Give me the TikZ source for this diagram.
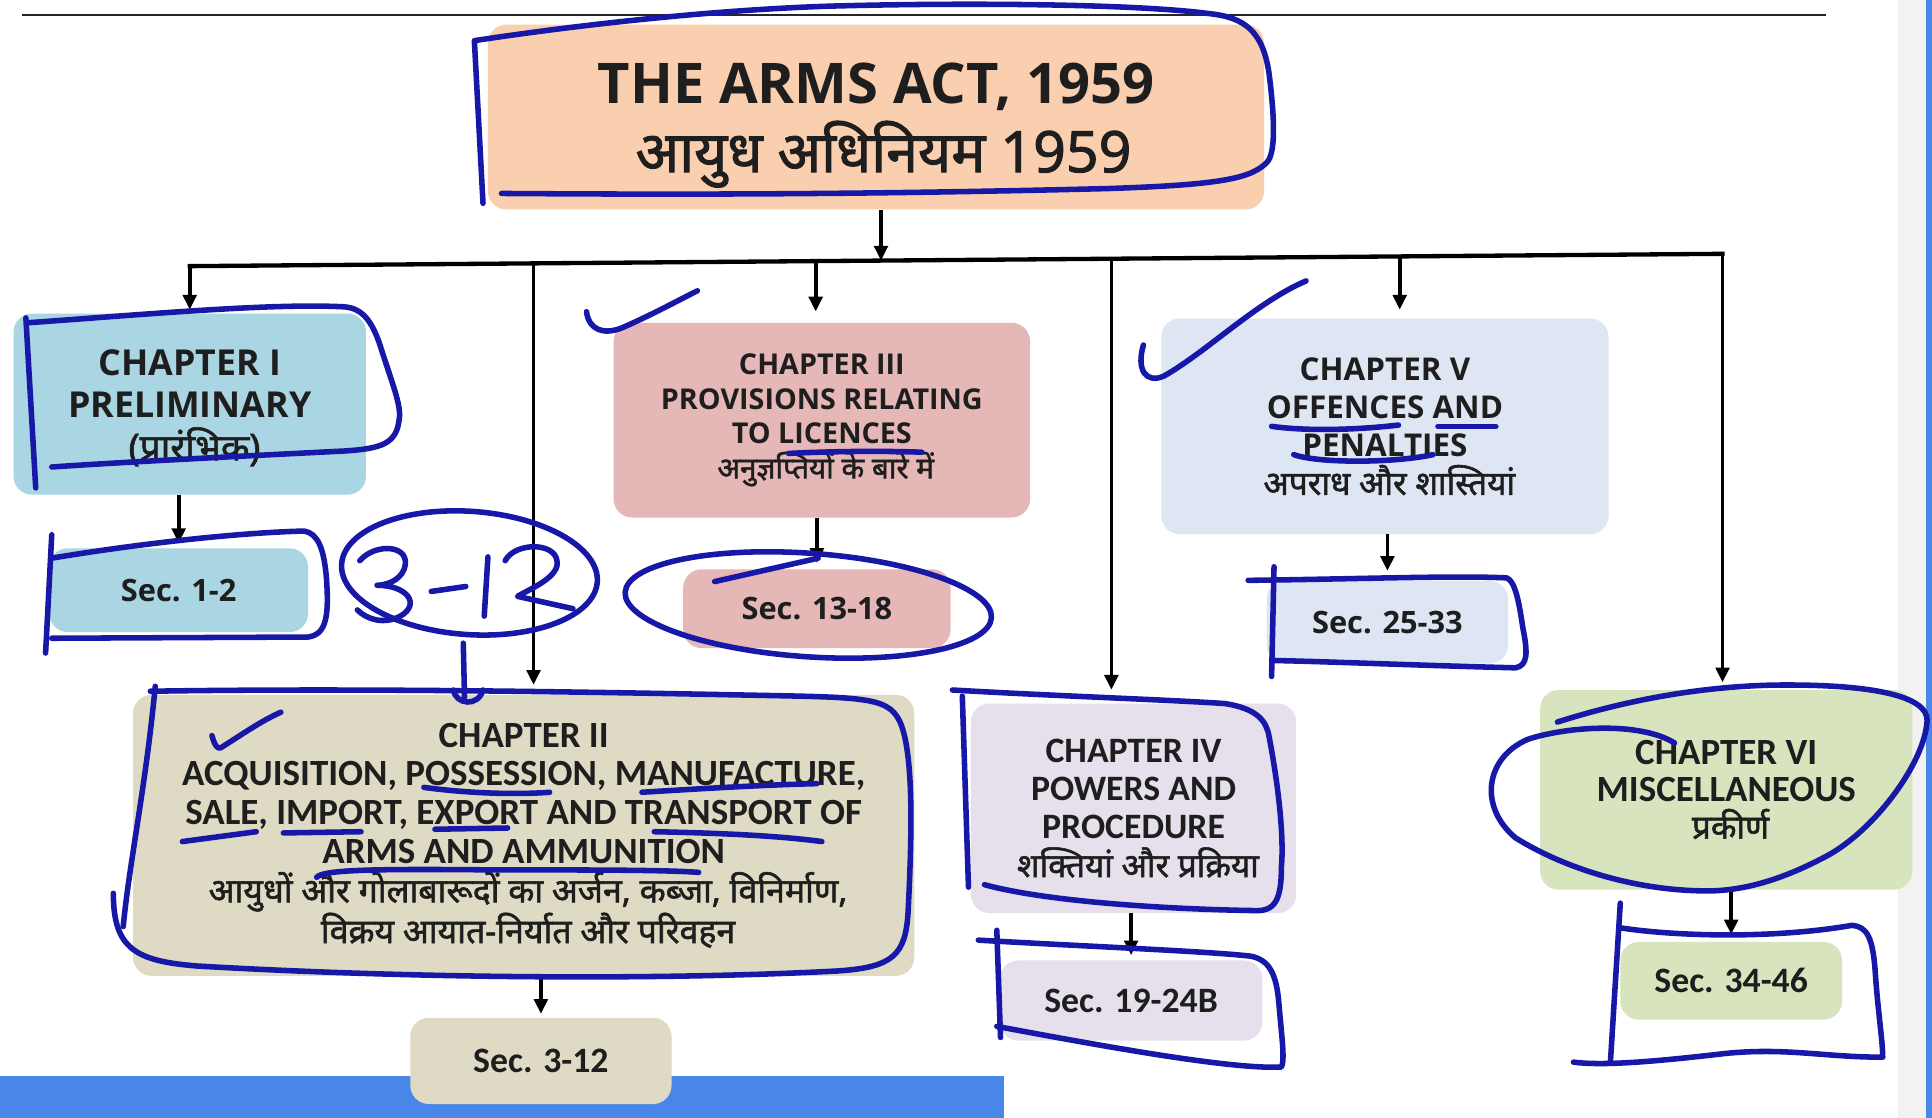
\documentclass[tikz,border=0pt]{standalone}
\usepackage{fontspec}
\setmainfont{Open Sans}
\newfontfamily\wide{Open Sans}
\newfontfamily\cond{Carlito}
\newfontfamily\devaf[Script=Devanagari,FakeBold=1.6]{Noto Sans}
\newcommand\deva{\devaf\mdseries}
\usetikzlibrary{arrows.meta}
\definecolor{ink}{RGB}{24,24,168}
\definecolor{txt}{RGB}{30,30,30}
\definecolor{peach}{RGB}{250,207,175}
\definecolor{cblue}{RGB}{170,213,227}
\definecolor{cpink}{RGB}{229,183,183}
\definecolor{cgrey}{RGB}{221,230,242}
\definecolor{ctan}{RGB}{222,218,196}
\definecolor{clav}{RGB}{229,224,236}
\definecolor{cgreen}{RGB}{216,228,190}
\definecolor{band}{RGB}{72,134,232}
\newcommand\myfs[2]{\fontsize{#1}{#2}\selectfont}
\tikzset{
  box/.style={rounded corners=15pt, inner sep=0pt, align=center, text=txt},
  arr/.style={line width=3pt, draw=black, -{Triangle[length=12pt,width=11pt]}},
  ann/.style={draw=ink, line width=4.5pt, line cap=round, line join=round},
}
\begin{document}
\begin{tikzpicture}[x=1pt,y=-1pt]
\useasboundingbox (0,0) rectangle (1568,907);
\fill[white] (0,0) rectangle (1568,907);
% frame pieces
\draw[line width=2pt, black!85] (18,12) -- (1482,12);
\fill[black!5] (1540,0) rectangle (1563,907);
\fill[band] (1563,0) rectangle (1568,907);
\fill[band] (0,873) rectangle (815,907);

% boxes
\node[box, fill=peach, minimum width=630pt, minimum height=150pt, font=\wide\bfseries\myfs{45.5}{56}] (title) at (711,95)
  {\rule{0pt}{46pt}THE ARMS ACT, 1959\\{\deva\myfs{46.5}{56} आयुध अधिनियम 1959}};
\node[box, fill=cblue, minimum width=286pt, minimum height=147pt, font=\wide\bfseries\myfs{29}{34.5}] (ch1) at (154,328)
  {\rule{0pt}{27pt}CHAPTER I\\PRELIMINARY\\{\deva\myfs{30}{34.5} (प्रारंभिक)}};
\node[box, fill=cblue, minimum width=210pt, minimum height=68pt, font=\wide\bfseries\myfs{25}{30}] (sec1) at (145,479) {Sec. 1-2};
\node[box, fill=cpink, minimum width=338pt, minimum height=158pt, font=\wide\bfseries\myfs{23.3}{28}] (ch3) at (667,341)
  {CHAPTER III\\PROVISIONS RELATING\\TO LICENCES\\{\deva\myfs{24}{28} अनुज्ञप्तियों के बारे में}};
\node[box, fill=cpink, minimum width=217pt, minimum height=64pt, font=\wide\bfseries\myfs{25}{30}] (sec3) at (663,494) {Sec. 13-18};
\node[box, fill=cgrey, minimum width=363pt, minimum height=175pt, font=\wide\bfseries\myfs{25.5}{31}] (ch5) at (1124,346)
  {CHAPTER V\\OFFENCES AND\\PENALTIES\\{\deva\myfs{27}{31} अपराध और शास्तियां}};
\node[box, fill=cgrey, minimum width=196pt, minimum height=67pt, font=\wide\bfseries\myfs{25}{30}] (sec5) at (1126,505) {Sec. 25-33};
\node[box, fill=ctan, minimum width=634pt, minimum height=228pt, font=\cond\bfseries\myfs{30}{31.5}] (ch2) at (425,678)
  {CHAPTER II\\ACQUISITION, POSSESSION, MANUFACTURE,\\SALE, IMPORT, EXPORT AND TRANSPORT OF\\ARMS AND AMMUNITION\\
   {\deva\myfs{27.5}{31.5} आयुधों और गोलाबारूदों का अर्जन, कब्जा, विनिर्माण,}\\
   {\deva\myfs{27.5}{31.5} विक्रय आयात-निर्यात और परिवहन}};
\node[box, fill=ctan, minimum width=212pt, minimum height=70pt, font=\cond\bfseries\myfs{29}{31}] (sec2) at (439,861) {Sec. 3-12};
\node[box, fill=clav, minimum width=264pt, minimum height=170pt, font=\cond\bfseries\myfs{29}{31}] (ch4) at (920,656)
  {CHAPTER IV\\POWERS AND\\PROCEDURE\\{\deva\myfs{27}{31} शक्तियां और प्रक्रिया}};
\node[box, fill=clav, minimum width=213pt, minimum height=65pt, font=\cond\bfseries\myfs{29}{31}] (sec4) at (918,812) {Sec. 19-24B};
\node[box, fill=cgreen, minimum width=302pt, minimum height=162pt, font=\cond\bfseries\myfs{30}{30}] (ch6) at (1401,641)
  {CHAPTER VI\\MISCELLANEOUS\\{\deva\myfs{27}{30} प्रकीर्ण}};
\node[box, fill=cgreen, minimum width=180pt, minimum height=63pt, font=\cond\bfseries\myfs{29}{31}] (sec6) at (1405,796) {Sec. 34-46};

% connectors
\coordinate (busL) at (154,216);
\coordinate (busR) at (1398,206);
\coordinate (bT) at (715,211.5);
\coordinate (b2) at (433,213.8);
\coordinate (b3) at (662,212);
\coordinate (b4) at (902,210);
\coordinate (b5) at (1136,208.1);
\draw[line width=3.5pt, line cap=rect] (busL) -- (busR);
\draw[arr] (title.south -| bT) -- (bT);
\draw[arr, shorten >=3pt] (busL) -- (busL |- ch1.north);
\draw[arr, shorten >=8pt] (b2) -- (b2 |- ch2.north);
\draw[arr, shorten >=9pt] (b3) -- (b3 |- ch3.north);
\draw[arr, shorten >=11pt] (b4) -- (b4 |- ch4.north);
\draw[arr, shorten >=7pt] (b5) -- (b5 |- ch5.north);
\draw[arr, shorten >=6pt] (busR) -- (busR |- ch6.north);
\draw[arr, shorten >=4pt] (ch1.south -| sec1.north) -- (sec1.north);
\draw[arr, shorten >=5pt] (ch3.south -| sec3.north) -- (sec3.north);
\draw[arr, shorten >=8pt] (ch5.south -| sec5.north) -- (sec5.north);
\draw[arr, shorten >=3pt] (ch2.south -| sec2.north) -- (sec2.north);
\draw[arr, shorten >=4pt] (ch4.south -| sec4.north) -- (sec4.north);
\draw[arr, shorten >=6pt] (ch6.south -| sec6.north) -- (sec6.north);

% hand-drawn annotations
% title
\draw[ann] (392,165) -- (385,33) .. controls (470,20) and (580,8) .. (673,5) .. controls (780,2) and (920,3) .. (981,11)
  .. controls (1010,14) and (1025,25) .. (1030,60) .. controls (1035,100) and (1035,125) .. (1028,132)
  .. controls (1015,145) and (990,150) .. (900,153) .. controls (700,158) and (550,158) .. (407,157);
% chapter I
\draw[ann] (21,258) -- (29,396);
\draw[ann] (22,262) .. controls (120,255) and (220,246) .. (279,249) .. controls (295,250) and (303,262) .. (310,285)
  .. controls (318,310) and (326,330) .. (324,340) .. controls (322,360) and (310,364) .. (280,366)
  .. controls (200,370) and (100,375) .. (42,379);
% sec 1-2
\draw[ann] (42,434) -- (37,530);
\draw[ann] (42,453) .. controls (120,440) and (200,432) .. (247,431) .. controls (258,433) and (263,445) .. (265,470)
  .. controls (267,500) and (265,515) .. (250,517) -- (42,518);
% 3-12
\draw[ann, rotate around={-4:(381,465)}] (381,465) ellipse [x radius=104pt, y radius=50pt];
\draw[ann] (292,455) .. controls (305,440) and (335,442) .. (328,462) .. controls (324,472) and (312,475) .. (306,475)
  .. controls (330,475) and (342,490) .. (325,500) .. controls (312,507) and (298,503) .. (290,495);
\draw[ann] (350,480) -- (378,476);
\draw[ann] (396,452) -- (393,500);
\draw[ann] (410,455) .. controls (418,440) and (450,440) .. (452,455) .. controls (455,468) and (430,478) .. (420,484) -- (465,494);
\draw[ann] (376,522) -- (377,566);
\draw[ann] (368,560) .. controls (370,572) and (388,574) .. (392,560);
% chapter III
\draw[ann] (476,253) .. controls (478,268) and (490,272) .. (505,266) .. controls (530,255) and (550,244) .. (566,236);
\draw[ann] (640,368) .. controls (680,366) and (720,366) .. (748,367);
\draw[ann, rotate around={-4:(656,491)}] (656,491) ellipse [x radius=149pt, y radius=42pt];
\draw[ann] (580,472) -- (664,453);
% chapter V
\draw[ann] (928,280) .. controls (922,300) and (930,312) .. (945,305) .. controls (980,285) and (1020,245) .. (1060,228);
\draw[ann] (1032,346) .. controls (1060,350) and (1100,349) .. (1135,345);
\draw[ann] (1167,346) -- (1214,346);
\draw[ann] (1050,369) .. controls (1070,376) and (1130,376) .. (1163,369);
% sec 25-33
\draw[ann] (1034,460) -- (1032,549);
\draw[ann] (1013,471) .. controls (1100,470) and (1180,467) .. (1223,469) .. controls (1230,472) and (1233,490) .. (1236,510)
  .. controls (1240,530) and (1240,540) .. (1230,542) .. controls (1150,540) and (1080,537) .. (1032,536);
% chapter II
\draw[ann] (126,557) .. controls (118,640) and (105,700) .. (100,752);
\draw[ann] (92,725) .. controls (92,770) and (110,780) .. (160,784) .. controls (350,795) and (550,795) .. (680,788)
  .. controls (725,785) and (735,775) .. (737,740) .. controls (740,680) and (742,610) .. (730,585)
  .. controls (720,565) and (700,566) .. (600,564) .. controls (400,560) and (250,559) .. (122,561);
\draw[ann] (172,597) .. controls (174,604) and (176,608) .. (179,607) .. controls (195,597) and (212,585) .. (228,578);
\draw[ann] (344,639) .. controls (380,644) and (420,645) .. (446,643);
\draw[ann] (521,643) .. controls (570,640) and (620,637) .. (663,636);
\draw[ann] (208,675) -- (148,683);
\draw[ann] (230,676) -- (293,675);
\draw[ann] (353,673) -- (412,672);
\draw[ann] (531,675) .. controls (580,676) and (630,678) .. (667,683);
\draw[ann] (257,712) .. controls (262,706) and (300,705) .. (400,706) .. controls (480,706) and (540,706) .. (567,708);
% chapter IV
\draw[ann] (781,565) -- (786,720);
\draw[ann] (773,560) .. controls (860,565) and (950,568) .. (994,571) .. controls (1020,575) and (1028,585) .. (1030,598)
  .. controls (1038,640) and (1042,680) .. (1040,703) .. controls (1040,730) and (1035,740) .. (1018,739)
  .. controls (950,738) and (850,732) .. (799,718);
% sec 19-24B
\draw[ann] (809,755) -- (812,842);
\draw[ann] (794,763) .. controls (880,768) and (980,772) .. (1015,776) .. controls (1030,779) and (1036,790) .. (1038,815)
  .. controls (1040,840) and (1043,860) .. (1040,866) .. controls (1000,868) and (900,850) .. (809,833);
% chapter VI
\draw[ann] (1264,586) .. controls (1330,565) and (1390,557) .. (1440,556) .. controls (1520,555) and (1565,565) .. (1564,585)
  .. controls (1562,620) and (1520,675) .. (1482,695) .. controls (1450,712) and (1420,722) .. (1390,723)
  .. controls (1330,724) and (1270,705) .. (1230,680) .. controls (1200,655) and (1205,615) .. (1240,600)
  .. controls (1270,590) and (1330,585) .. (1359,603);
% sec 34-46
\draw[ann] (1315,733) -- (1307,862);
\draw[ann] (1315,753) .. controls (1360,760) and (1440,762) .. (1503,751) .. controls (1515,752) and (1520,760) .. (1522,790)
  .. controls (1524,820) and (1528,845) .. (1528,858) .. controls (1480,858) and (1450,850) .. (1400,855)
  .. controls (1340,862) and (1300,865) .. (1277,862);
\end{tikzpicture}
\end{document}
